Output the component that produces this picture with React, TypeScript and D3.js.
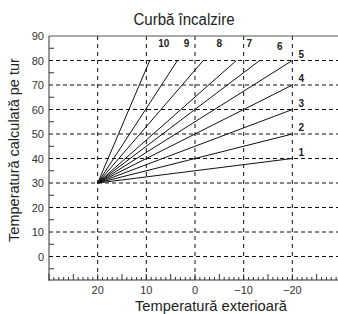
import React from "react";
import * as d3 from "d3";

const curveIds = ["1", "2", "3", "4", "5", "6", "7", "8", "9", "10"];
const startTemp = [20, 30];
const endOutside = [-20, -20, -20, -20, -20, -13.3, -8.5, -1.7, 3.6, 9.3];
const endFlow = [40, 50, 60, 70, 80, 80, 80, 80, 80, 80];
const yTicks = [0, 10, 20, 30, 40, 50, 60, 70, 80, 90];
const xTicks = [20, 10, 0, -10, -20];

const W = 338;
const H = 314;
const m = { left: 49, top: 36, right: 341, bottom: 281 };
const font = "'Liberation Sans', Arial, sans-serif";

export default function App() {
  const x = d3.scaleLinear().domain([30, -30]).range([m.left, m.right]);
  const y = d3.scaleLinear().domain([-10, 90]).range([m.bottom, m.top]);
  const minorX = d3.range(30, -31, -1);
  const minorY = d3.range(-5, 90, 10);
  const line = d3.line<[number, number]>().x(d => x(d[0])).y(d => y(d[1]));

  return (
    <svg width={W} height={H} style={{ position: "absolute", left: 0, top: 0 }}>
      <text x={184} y={25} textAnchor="middle" fontFamily={font} fontSize={16} fill="#222"
        textLength={101} lengthAdjust="spacingAndGlyphs">
        Curbă încalzire
      </text>

      {/* grid */}
      {yTicks.filter(v => v < 90).map(v => (
        <line key={"gy" + v} x1={m.left} x2={W} y1={y(v)} y2={y(v)}
          stroke="#111" strokeWidth={1} strokeDasharray="4,3" />
      ))}
      {xTicks.map(v => (
        <line key={"gx" + v} x1={x(v)} x2={x(v)} y1={m.top} y2={m.bottom}
          stroke="#111" strokeWidth={1} strokeDasharray="4,4" />
      ))}

      {/* frame */}
      <line x1={m.left} x2={W} y1={m.top} y2={m.top} stroke="#555" strokeWidth={1.2} />
      <line x1={m.left} x2={m.left} y1={m.top} y2={y(-10)} stroke="#333" strokeWidth={1} />
      <line x1={m.left} x2={W} y1={m.bottom - 1} y2={m.bottom - 1} stroke="#333" strokeWidth={1} />

      {minorX.map(v => (
        <line key={"mx" + v} x1={x(v)} x2={x(v)} y1={m.bottom - 1}
          y2={m.bottom - 1 - (v % 5 === 0 ? 6 : 3)} stroke="#333" strokeWidth={1} />
      ))}
      {minorY.map(v => (
        <line key={"my" + v} x1={m.left} x2={m.left + 5} y1={y(v)} y2={y(v)}
          stroke="#333" strokeWidth={1} />
      ))}

      {yTicks.map(v => (
        <text key={"ty" + v} x={44} y={y(v) + 4} textAnchor="end" fontFamily={font}
          fontSize={11} fill="#333">{v}</text>
      ))}
      {xTicks.map(v => (
        <text key={"tx" + v} x={x(v)} y={294} textAnchor="middle" fontFamily={font}
          fontSize={11} fill="#333">{v < 0 ? "\u2212" + Math.abs(v) : v}</text>
      ))}

      {/* curves */}
      {curveIds.map((id, i) => (
        <path key={"c" + id}
          d={line([[startTemp[0], startTemp[1]], [endOutside[i], endFlow[i]]]) || ""}
          fill="none" stroke="#111" strokeWidth={1} />
      ))}
      {curveIds.map((id, i) => {
        const top = i >= 5;
        const offs = [0, 0, 0, 0, 0, 20, 13, 16, 9, 14];
        const tx = top ? x(endOutside[i]) + offs[i] : x(endOutside[i]) + 9;
        const ty = top ? (id === "6" ? 50 : 47) : y(endFlow[i]) - 3;
        return (
          <text key={"l" + id} x={tx} y={ty} textAnchor="middle" fontFamily={font}
            fontSize={10} fontWeight="bold" fill="#222">{id}</text>
        );
      })}

      <text transform={`translate(19,150) rotate(-90)`} textAnchor="middle" fontFamily={font}
        fontSize={14.5} fill="#222">
        Temperatură calculată pe tur
      </text>
      <text x={211} y={311} textAnchor="middle" fontFamily={font} fontSize={15} fill="#222"
        textLength={152} lengthAdjust="spacingAndGlyphs">
        Temperatură exterioară
      </text>
    </svg>
  );
}
